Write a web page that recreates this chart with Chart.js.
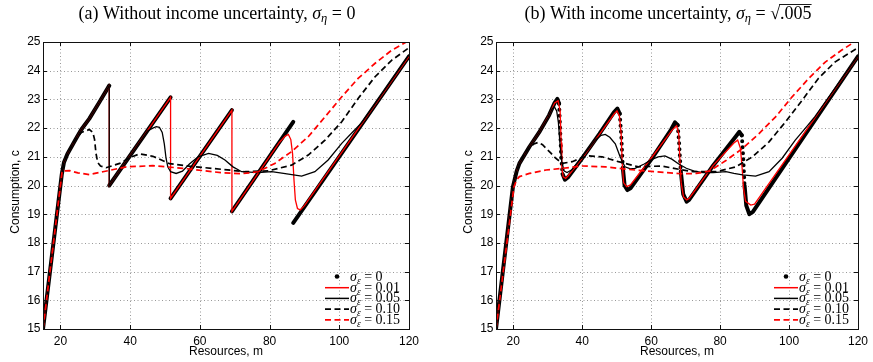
<!DOCTYPE html>
<html>
<head>
<meta charset="utf-8">
<script src="https://cdn.jsdelivr.net/npm/chart.js@4.4.0/dist/chart.umd.min.js"></script>
<style>
  body { margin: 0; background: #fff; }
  #wrap { position: relative; width: 873px; height: 362px; }
  #chartA { position: absolute; left: 0; top: 0; }
  #chartB { position: absolute; left: 440px; top: 0; }
</style>
</head>
<body>
<div id="wrap">
  <canvas id="chartA" width="440" height="362"></canvas>
  <canvas id="chartB" width="433" height="362"></canvas>
</div>
<script>
const xTicks = [20, 40, 60, 80, 100, 120];
const yTicks = [15, 16, 17, 18, 19, 20, 21, 22, 23, 24, 25];
const sigmaLabels = ['0', '0.01', '0.05', '0.10', '0.15'];

// panel (a): no income uncertainty, [resources, consumption]
const aSig0 = [[15, 15], [20.4, 20.4], [21, 20.8], [22, 21.1], [24.5, 21.64], [26, 21.95], [28.3, 22.33], [31.2, 22.91], [34, 23.48], [34, null],
  [34, 20.0], [51.6, 23.07], [51.6, null],
  [51.6, 19.55], [69.2, 22.63], [69.2, null],
  [69.2, 19.1], [86.8, 22.22], [86.8, null],
  [86.8, 18.7], [120, 24.5]];
const aSig001 = [[15, 15], [20.4, 20.4], [21, 20.8], [22, 21.1], [24.5, 21.64], [26, 21.95], [28.3, 22.33], [31.2, 22.91], [34, 23.48],
  [34, 20.0], [51.6, 23.07], [51.6, 19.55], [69.2, 22.63], [69.2, 19.1], [82.8, 21.5], [84.5, 21.72], [85.4, 21.78], [86.1, 21.6],
  [86.6, 21.1], [87.0, 20.2], [87.4, 19.5], [88.0, 19.2], [88.8, 19.15], [90, 19.3], [120, 24.5]];
const aSig005 = [[15, 15], [20.4, 20.4], [21, 20.8], [22, 21.1], [24.5, 21.64], [26, 21.95], [28.3, 22.33], [31.2, 22.91], [34, 23.48],
  [34, 20.0], [45, 21.9], [46.5, 22.0], [47.5, 22.05], [48.4, 22.03], [49.2, 21.85], [49.8, 21.45], [50.3, 20.95], [50.8, 20.65],
  [51.6, 20.48], [53.2, 20.42],
  [55, 20.5], [57, 20.75], [59.5, 21.0], [62.5, 21.12], [65, 21.05], [67.2, 20.89], [69.5, 20.65], [72, 20.48], [76.7, 20.45],
  [80.6, 20.48], [84, 20.42], [89.2, 20.33], [93, 20.48], [96.8, 20.89], [100.7, 21.47], [103.5, 21.82], [106.5, 22.2],
  [110, 22.8], [120, 24.55]];
const aSig010 = [[15, 15], [20.4, 20.4], [21, 20.8], [22, 21.1], [24, 21.55], [26, 21.85], [28.3, 21.95], [29.3, 21.85], [29.8, 21.6],
  [30.2, 21.12], [30.7, 20.8], [31.5, 20.68], [33.1, 20.62], [37, 20.77], [40, 20.98], [42.7, 21.1], [46.5, 21.02], [51.3, 20.76],
  [58, 20.66], [66.6, 20.56], [73, 20.48], [79.6, 20.51], [86.3, 20.71], [91.1, 21.06], [95.9, 21.58], [100.7, 22.22],
  [105.4, 23.03], [110.2, 23.78], [115, 24.36], [120, 24.8]];
const aSig015 = [[15, 15], [20.5, 20.5], [22.6, 20.52], [25, 20.44], [28.3, 20.38], [32.2, 20.48], [38.9, 20.65], [46.5, 20.69],
  [55.1, 20.6], [66.6, 20.44], [72, 20.41], [76.7, 20.48], [81.5, 20.77], [86.3, 21.18], [91.1, 21.7], [95.9, 22.39],
  [100.7, 23.09], [105.4, 23.73], [110.2, 24.25], [115, 24.71], [120, 25.05]];

// panel (b): with income uncertainty
const bSig0 = [[15, 15], [19.9, 19.95], [21, 20.5], [21.8, 20.77], [24.7, 21.35], [27.5, 21.85], [30.4, 22.45], [32, 22.88], [32.8, 23.02],
  [33.3, 22.85], [33.6, 22.0], [33.9, 21.0], [34.3, 20.4], [35.0, 20.2], [36, 20.3], [40, 20.95], [45, 21.8], [49.2, 22.55],
  [50.2, 22.68], [50.9, 22.5], [51.4, 21.6], [51.8, 20.6], [52.3, 20.0], [53.1, 19.84], [54, 19.9], [60, 20.9], [65.8, 21.95],
  [66.9, 22.2], [67.7, 22.1], [68.1, 21.5], [68.6, 20.5], [69.3, 19.7], [70.3, 19.44], [71, 19.5], [78, 20.7], [84.5, 21.7],
  [85.6, 21.87], [86.3, 21.75], [86.7, 21.0], [87.1, 20.0], [87.6, 19.3], [88.5, 19.0], [89.5, 19.08], [120, 24.5]];
const bSig001 = [[15, 15], [19.9, 19.95], [21, 20.5], [21.8, 20.77], [24.7, 21.35], [27.5, 21.85], [30.4, 22.45], [32, 22.88], [33.0, 22.95],
  [33.6, 22.6], [33.9, 21.5], [34.1, 20.6], [34.5, 20.3], [35.2, 20.25], [36, 20.35], [40, 20.95], [45, 21.78], [49.3, 22.5],
  [50.1, 22.6], [50.8, 22.42], [51.3, 21.8], [51.6, 20.8], [52.0, 20.1], [52.9, 19.96], [54, 20.02], [60, 20.95], [66, 21.92],
  [67.4, 22.08], [68.0, 21.8], [68.3, 21.0], [68.7, 20.1], [69.4, 19.6], [70.3, 19.5], [71, 19.55], [78, 20.7], [84, 21.48],
  [85.1, 21.58], [85.9, 21.3], [86.4, 20.6], [86.8, 19.9], [87.4, 19.45], [88.9, 19.32], [90, 19.35], [120, 24.5]];
const bSig005 = [[15, 15], [19.9, 19.95], [21, 20.5], [21.8, 20.77], [24.7, 21.35], [27.5, 21.85], [30, 22.35], [31.2, 22.65], [31.9, 22.75],
  [32.6, 22.6], [33.1, 22.2], [33.6, 21.4], [34.1, 20.8], [34.8, 20.5], [35.6, 20.45], [37, 20.55], [40, 21.0], [43.8, 21.58],
  [45.5, 21.75], [46.7, 21.78], [48, 21.68], [49.6, 21.45], [51, 21.0], [52.4, 20.65], [54, 20.58], [55.3, 20.6], [58, 20.75],
  [60.1, 20.9], [62, 21.0], [64, 21.03], [66, 20.92], [68, 20.75], [70.2, 20.6], [72.5, 20.5], [75, 20.45], [78, 20.45],
  [81.7, 20.48], [84, 20.42], [86.5, 20.37], [90.3, 20.33], [94.2, 20.48], [98, 20.95], [101.8, 21.58], [104.7, 21.99],
  [107.5, 22.4], [120, 24.52]];
const bSig010 = [[15, 15], [19.9, 19.95], [21, 20.5], [21.8, 20.75], [23, 21.05], [24.5, 21.3], [26, 21.45], [27.2, 21.5], [28.5, 21.42],
  [29.5, 21.3], [31, 21.12], [32.3, 20.95], [34.3, 20.77], [37.1, 20.83], [40, 20.97], [41.9, 21.03], [45.8, 21.0], [50.5, 20.83],
  [56.3, 20.65], [63, 20.68], [68.7, 20.55], [72.2, 20.48], [78.9, 20.48], [84.6, 20.65], [89.4, 21.0], [94.2, 21.52],
  [99, 22.22], [103.8, 22.97], [108.5, 23.73], [113.3, 24.3], [120, 24.8]];
const bSig015 = [[15, 15], [20.2, 19.95], [21, 20.2], [21.8, 20.31], [24.7, 20.42], [29.5, 20.54], [34.3, 20.6], [40, 20.68], [46.7, 20.65],
  [53.4, 20.56], [61.1, 20.48], [68.7, 20.41], [73.1, 20.42], [76.9, 20.5], [81.7, 20.87], [86.5, 21.29], [91.3, 21.81],
  [96.1, 22.39], [100.9, 23.09], [105.7, 23.73], [110.5, 24.3], [115.2, 24.71], [120, 25.08]];

const styles = [
  { color: '#000', width: 4, dash: [], order: 5 },
  { color: '#ff0000', width: 1.3, dash: [], order: 4 },
  { color: '#000', width: 1.3, dash: [], order: 3 },
  { color: '#000', width: 1.7, dash: [6, 3.5], order: 2 },
  { color: '#ff0000', width: 1.7, dash: [6, 3.5], order: 1 },
];

const serif = '"Liberation Serif", "DejaVu Serif", serif';
const sans = '"Liberation Sans", Arial, sans-serif';

const steep = (c) => Math.abs(c.p1.parsed.y - c.p0.parsed.y) > 1.5 * Math.abs(c.p1.parsed.x - c.p0.parsed.x);

function makeDatasets(list) {
  return list.map((arr, i) => {
    const s = styles[i];
    const ds = {
      data: arr.map(([x, y]) => ({ x: x, y: y })),
      borderColor: s.color,
      borderWidth: s.width,
      borderDash: s.dash,
      pointRadius: 0,
      fill: false,
      tension: 0,
      order: s.order,
    };
    if (i === 0) {
      ds.borderCapStyle = 'round';
      ds.borderJoinStyle = 'round';
      ds.segment = { borderDash: (c) => (steep(c) ? [0, 6] : undefined) };
    }
    return ds;
  });
}

function richText(ctx, parts, x, y, centered) {
  let w = 0;
  parts.forEach((p) => { ctx.font = p.font; w += ctx.measureText(p.t).width; });
  let cx = centered ? x - w / 2 : x;
  ctx.textAlign = 'left';
  ctx.textBaseline = 'alphabetic';
  parts.forEach((p) => {
    ctx.font = p.font;
    ctx.fillText(p.t, cx, y + (p.dy || 0));
    const pw = ctx.measureText(p.t).width;
    if (p.over) ctx.fillRect(cx - 1, y - p.over, pw + 1, 0.9);
    cx += pw;
  });
}

const frame = {
  id: 'frame',
  beforeDatasetsDraw(chart) {
    const { ctx, chartArea: a, scales } = chart;
    ctx.save();
    ctx.strokeStyle = 'rgba(0,0,0,0.4)';
    ctx.lineWidth = 1;
    ctx.setLineDash([1, 2.5]);
    xTicks.forEach((v) => {
      const px = Math.round(scales.x.getPixelForValue(v)) + 0.5;
      if (px > a.right - 2) return;
      ctx.beginPath(); ctx.moveTo(px, a.top); ctx.lineTo(px, a.bottom); ctx.stroke();
    });
    yTicks.forEach((v) => {
      const py = Math.round(scales.y.getPixelForValue(v)) + 0.5;
      if (py < a.top + 2 || py > a.bottom - 2) return;
      ctx.beginPath(); ctx.moveTo(a.left, py); ctx.lineTo(a.right, py); ctx.stroke();
    });
    ctx.restore();
  },
  afterDatasetsDraw(chart) {
    const { ctx, chartArea: a, scales } = chart;
    ctx.save();
    ctx.strokeStyle = '#111';
    ctx.lineWidth = 1;
    ctx.setLineDash([]);
    ctx.strokeRect(Math.round(a.left) + 0.5, Math.round(a.top) + 0.5, Math.round(a.right - a.left), Math.round(a.bottom - a.top));
    ctx.beginPath();
    xTicks.forEach((v) => {
      const px = Math.round(scales.x.getPixelForValue(v)) + 0.5;
      ctx.moveTo(px, a.bottom); ctx.lineTo(px, a.bottom - 4);
      ctx.moveTo(px, a.top); ctx.lineTo(px, a.top + 4);
    });
    yTicks.forEach((v) => {
      const py = Math.round(scales.y.getPixelForValue(v)) + 0.5;
      ctx.moveTo(a.left, py); ctx.lineTo(a.left + 4, py);
      ctx.moveTo(a.right, py); ctx.lineTo(a.right - 4, py);
    });
    ctx.stroke();

    // legend
    const lx0 = a.right - 84, lx1 = a.right - 60, tx = a.right - 59;
    sigmaLabels.forEach((lab, i) => {
      const y = a.bottom - 52.5 + i * 10.7;
      const s = styles[i];
      ctx.fillStyle = '#000';
      if (i === 0) {
        ctx.beginPath(); ctx.arc((lx0 + lx1) / 2, y, 2.3, 0, Math.PI * 2); ctx.fill();
      } else {
        ctx.strokeStyle = s.color;
        ctx.lineWidth = s.width === 1.3 ? 1.5 : 1.7;
        ctx.setLineDash(s.dash);
        ctx.beginPath(); ctx.moveTo(lx0, y + 0.5); ctx.lineTo(lx1, y + 0.5); ctx.stroke();
      }
      ctx.fillStyle = '#000';
      richText(ctx, [
        { t: 'σ', font: 'italic 14px ' + serif },
        { t: 'ε', font: 'italic 9.5px ' + serif, dy: 3 },
        { t: ' = ' + lab, font: '14px ' + serif },
      ], tx, y + 4.5, false);
    });

    // titles and axis names
    const opt = chart.options.plugins.frame;
    ctx.fillStyle = '#000';
    richText(ctx, opt.title, opt.titleX, 18.5, true);
    ctx.font = '12px ' + sans;
    ctx.textAlign = 'center';
    ctx.textBaseline = 'middle';
    ctx.fillText('Resources, m', (a.left + a.right) / 2, 351.5);
    ctx.save();
    ctx.translate(a.left - 27, 192);
    ctx.rotate(-Math.PI / 2);
    ctx.fillText('Consumption, c', 0, 0);
    ctx.restore();
    ctx.restore();
  },
};

function makeChart(id, list, yWidth, padRight, title, titleX) {
  return new Chart(document.getElementById(id), {
    type: 'line',
    data: { datasets: makeDatasets(list) },
    options: {
      responsive: false,
      animation: false,
      devicePixelRatio: 1,
      layout: { padding: { top: 42, right: padRight, left: 0, bottom: 0 } },
      plugins: {
        legend: { display: false },
        tooltip: { enabled: false },
        frame: { title: title, titleX: titleX },
      },
      scales: {
        x: {
          type: 'linear',
          min: 15,
          max: 120,
          grid: { display: false, drawTicks: false },
          border: { display: false },
          afterBuildTicks: (s) => { s.ticks = xTicks.map((v) => ({ value: v })); },
          afterFit: (s) => { s.height = 33; },
          ticks: { color: '#000', padding: 5, maxRotation: 0, autoSkip: false, font: { family: sans, size: 12 } },
        },
        y: {
          type: 'linear',
          min: 15,
          max: 25,
          grid: { display: false, drawTicks: false },
          border: { display: false },
          afterBuildTicks: (s) => { s.ticks = yTicks.map((v) => ({ value: v })); },
          afterFit: (s) => { s.width = yWidth; },
          ticks: { color: '#000', padding: 2.5, autoSkip: false, font: { family: sans, size: 12 } },
        },
      },
    },
    plugins: [frame],
  });
}

const titleA = [
  { t: '(a) Without income uncertainty, ', font: '18px ' + serif },
  { t: 'σ', font: 'italic 18px ' + serif },
  { t: 'η', font: 'italic 12.5px ' + serif, dy: 3 },
  { t: ' = 0', font: '18px ' + serif },
];
const titleB = [
  { t: '(b) With income uncertainty, ', font: '18px ' + serif },
  { t: 'σ', font: 'italic 18px ' + serif },
  { t: 'η', font: 'italic 12.5px ' + serif, dy: 3 },
  { t: ' = ', font: '18px ' + serif },
  { t: '√', font: '18px ' + serif },
  { t: '.005', font: '18px ' + serif, over: 14.5 },
];

makeChart('chartA', [aSig0, aSig001, aSig005, aSig010, aSig015], 43, 31, titleA, 217);
makeChart('chartB', [bSig0, bSig001, bSig005, bSig010, bSig015], 56, 11, titleB, 228);
</script>
</body>
</html>
